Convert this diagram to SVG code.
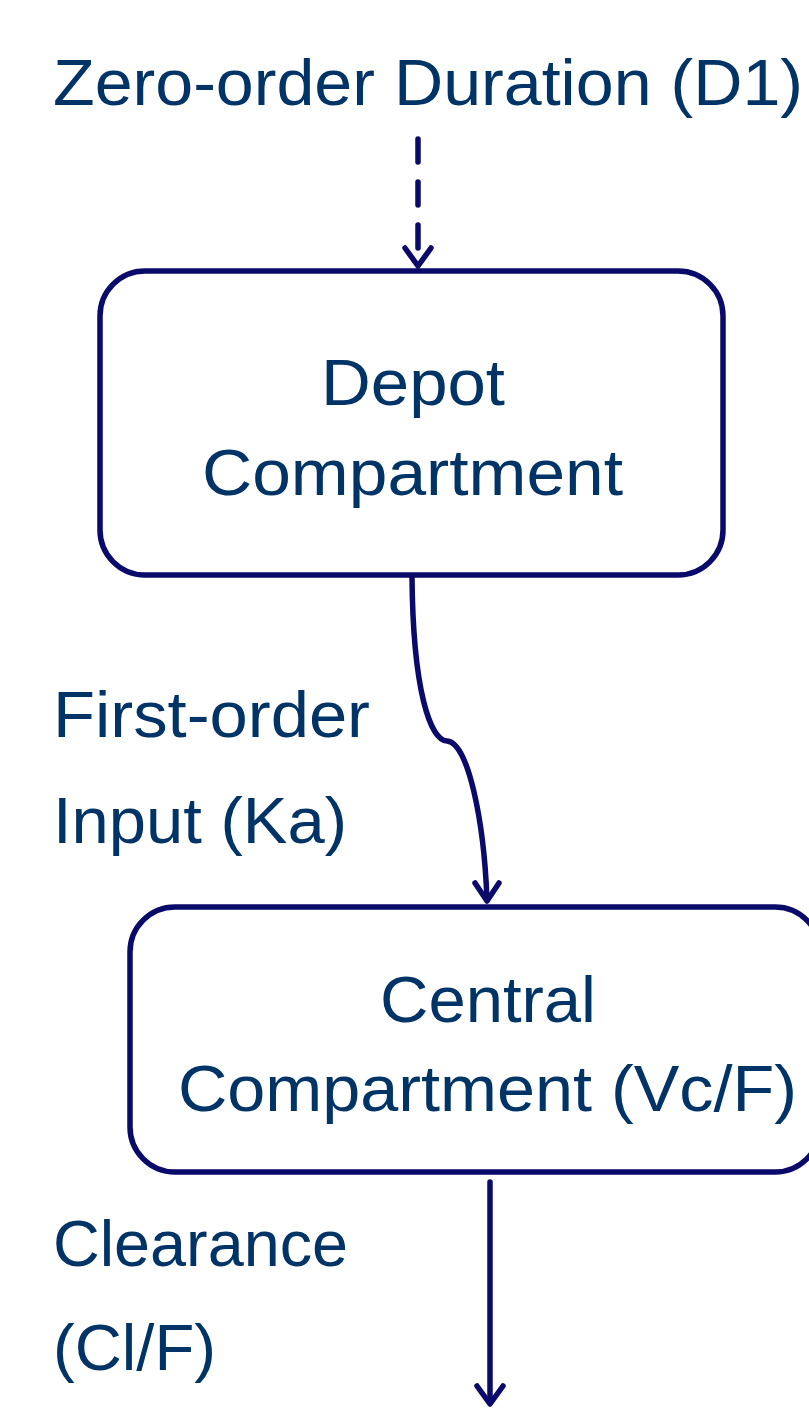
<svg xmlns="http://www.w3.org/2000/svg" width="809" height="1412" viewBox="0 0 809 1412">
<style>
.t{font-family:"Liberation Sans",Arial,sans-serif;font-size:64px;fill:#003366}
.box{fill:#fff;stroke:#0a0a6a;stroke-width:5.5}
.ln{fill:none;stroke:#0a0a6a;stroke-width:5.5;stroke-linecap:round;stroke-linejoin:round}
</style>
<rect width="809" height="1412" fill="#fff"/>
<g id="connectors">
<path class="ln" d="M418,139 V262" stroke-dasharray="23,20" stroke-linecap="butt"/>
<path class="ln" d="M405,248 L418,266 L431,248"/>
<path class="ln" d="M412,577 C413,690 430,740 447,741 C468,742 484,820 487,900"/>
<path class="ln" d="M475,883 L487,901 L499,883"/>
<path class="ln" d="M490,1182 V1402"/>
<path class="ln" d="M477,1386 L490,1404 L503,1386"/>
</g>
<g id="label-d1"><text class="t" x="53" y="105" textLength="750" lengthAdjust="spacingAndGlyphs">Zero-order Duration (D1)</text></g>
<g id="depot">
<rect class="box" x="100" y="271" width="623" height="304" rx="45"/>
<text class="t" x="321" y="405" textLength="184" lengthAdjust="spacingAndGlyphs">Depot</text>
<text class="t" x="202" y="495" textLength="421" lengthAdjust="spacingAndGlyphs">Compartment</text>
</g>
<g id="label-ka">
<text class="t" x="53" y="737" textLength="317" lengthAdjust="spacingAndGlyphs">First-order</text>
<text class="t" x="53" y="843" textLength="294" lengthAdjust="spacingAndGlyphs">Input (Ka)</text>
</g>
<g id="central">
<rect class="box" x="130" y="907" width="690" height="265" rx="45"/>
<text class="t" x="380" y="1022" textLength="216" lengthAdjust="spacingAndGlyphs">Central</text>
<text class="t" x="178" y="1111" textLength="619" lengthAdjust="spacingAndGlyphs">Compartment (Vc/F)</text>
</g>
<g id="label-cl">
<text class="t" x="53" y="1266" textLength="295" lengthAdjust="spacingAndGlyphs">Clearance</text>
<text class="t" x="53" y="1370" textLength="163" lengthAdjust="spacingAndGlyphs">(Cl/F)</text>
</g>
</svg>
